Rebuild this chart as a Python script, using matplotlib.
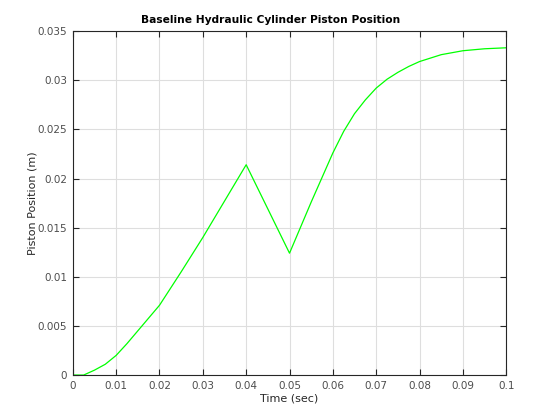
import matplotlib
matplotlib.use('Agg')
import matplotlib.pyplot as plt

# piston position
time = [0.0, 0.0025, 0.005, 0.0075, 0.01, 0.0125, 0.015, 0.0175, 0.02, 0.025, 0.03,
        0.035, 0.04, 0.045, 0.05, 0.055, 0.06, 0.0625, 0.065, 0.0675, 0.07, 0.0725,
        0.075, 0.0775, 0.08, 0.085, 0.09, 0.095, 0.1]
position = [0.0, 0.0, 0.0005, 0.0011, 0.0020, 0.0032, 0.0045, 0.0058, 0.0071, 0.0105, 0.0140,
            0.0177, 0.0214, 0.0169, 0.0124, 0.0176, 0.0226, 0.0248, 0.0266, 0.0280, 0.0292, 0.0301,
            0.0308, 0.0314, 0.0319, 0.0326, 0.0330, 0.0332, 0.0333]

xticks = [0, 0.01, 0.02, 0.03, 0.04, 0.05, 0.06, 0.07, 0.08, 0.09, 0.1]
xticklabels = ['0', '0.01', '0.02', '0.03', '0.04', '0.05', '0.06', '0.07', '0.08', '0.09', '0.1']
yticks = [0, 0.005, 0.01, 0.015, 0.02, 0.025, 0.03, 0.035]
yticklabels = ['0', '0.005', '0.01', '0.015', '0.02', '0.025', '0.03', '0.035']

fig = plt.figure(figsize=(5.6, 4.2), dpi=100)
ax = fig.add_axes([0.13, 0.107, 0.774, 0.819])
ax.plot(time, position, color='#00ff00', linewidth=0.9)

ax.set_xlim(0, 0.1)
ax.set_ylim(0, 0.035)
ax.set_xticks(xticks)
ax.set_xticklabels(xticklabels)
ax.set_yticks(yticks)
ax.set_yticklabels(yticklabels)
ax.grid(True, color='#dedede', linewidth=0.8)
ax.set_axisbelow(True)
ax.tick_params(direction='in', top=True, right=True, length=4, width=0.8,
               labelsize=7.5, colors='#262626', labelcolor='#4d4d4d', pad=4)
for s in ax.spines.values():
    s.set_color('#262626')
    s.set_linewidth(0.8)

ax.set_xlabel('Time (sec)', fontsize=8, color='#262626', labelpad=2)
ax.set_ylabel('Piston Position (m)', fontsize=8, color='#262626', labelpad=0)
ax.set_title('Baseline Hydraulic Cylinder Piston Position', fontsize=7.7,
             fontweight='bold', x=0.457, pad=6)

fig.savefig('out.png', dpi=100)
